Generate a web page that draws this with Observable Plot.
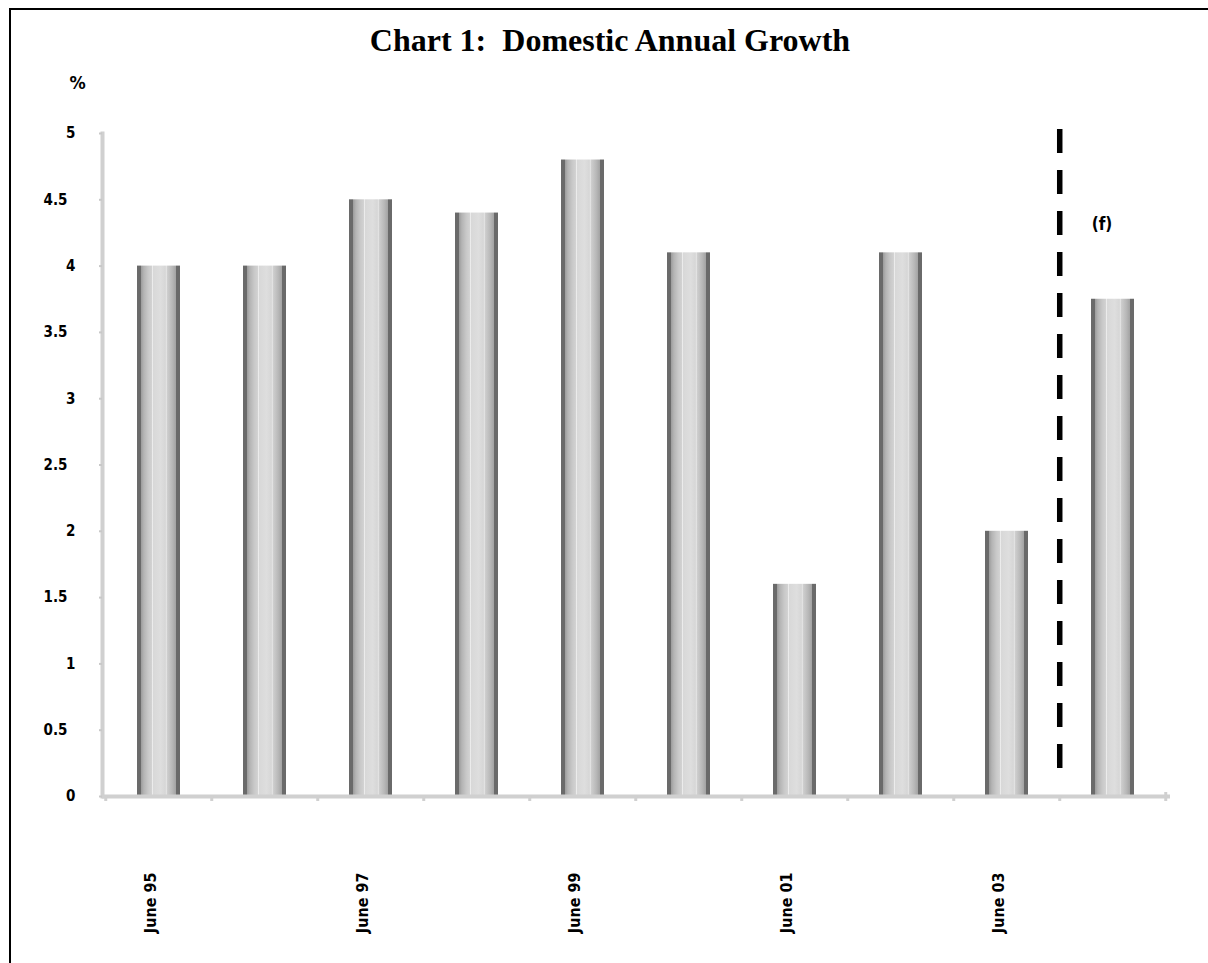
<!DOCTYPE html>
<html>
<head>
<meta charset="utf-8">
<script src="https://cdn.jsdelivr.net/npm/d3@7"></script>
<script src="https://cdn.jsdelivr.net/npm/@observablehq/plot@0.6"></script>
<style>
  html, body { margin: 0; padding: 0; background: #fff; overflow: hidden; }
  #border { position: absolute; left: 9px; top: 8px; width: 1400px; height: 1200px;
            border: 2.5px solid #000; box-sizing: border-box; pointer-events: none; }
  #wrap { position: absolute; left: 0; top: 0; width: 1208px; }
  #title { height: 62px; position: relative; }
  #title span { position: absolute; left: 0; width: 1220px; top: 22px; text-align: center;
                font: bold 32px "Liberation Serif", "Times New Roman", serif; white-space: pre;
                line-height: 36px; color: #000; }
  svg text { font-family: "Liberation Sans Narrow", "Arial Narrow", "DejaVu Sans Condensed", sans-serif; font-weight: bold; }
</style>
</head>
<body>
<div id="wrap">
  <div id="title"><span>Chart 1:  Domestic Annual Growth</span></div>
  <div id="chart"></div>
</div>
<div id="border"></div>
<script>
// ---- data ----
const periods = ["June 95", "June 96", "June 97", "June 98", "June 99", "June 00", "June 01", "June 02", "June 03", "June 04"];
const growth = [4.0, 4.0, 4.5, 4.4, 4.8, 4.1, 1.6, 4.1, 2.0, 3.75];
const shownLabels = ["June 95", "June 97", "June 99", "June 01", "June 03"];
const yTicksWhole = [0, 1, 2, 3, 4, 5];
const yTicksHalf = [0.5, 1.5, 2.5, 3.5, 4.5];
const forecastStart = "June 04";
const forecastNote = "(f)";
const unitLabel = "%";

const rows = periods.map((p, i) => ({period: p, value: growth[i]}));

const PAD_INNER = 0.59;

// custom render: boundary ticks on the x axis and the dashed forecast divider
function boundaryMarks(index, scales, values, dimensions) {
  const x = scales.x, y = scales.y;
  const step = x(periods[1]) - x(periods[0]);
  const bw = step * (1 - PAD_INNER);
  const half = (step - bw) / 2;
  const g = d3.create("svg:g");
  const y0 = y(0);
  const bounds = periods.map(p => x(p) - half).concat([x(periods[periods.length - 1]) + bw + half]);
  g.selectAll("line.tk").data(bounds).join("line")
    .attr("x1", d => d).attr("x2", d => d)
    .attr("y1", y0).attr("y2", y0 + 5)
    .attr("stroke", "#d0d0d0").attr("stroke-width", 3);
  g.append("line")
    .attr("x1", bounds[bounds.length - 1]).attr("x2", bounds[bounds.length - 1])
    .attr("y1", y0 - 4).attr("y2", y0)
    .attr("stroke", "#d0d0d0").attr("stroke-width", 3);
  const xd = x(forecastStart) - half;
  g.append("line")
    .attr("x1", xd).attr("x2", xd)
    .attr("y1", y(5.03)).attr("y2", y(0.17))
    .attr("stroke", "#000").attr("stroke-width", 5.5)
    .attr("stroke-dasharray", "24 17");
  return g.node();
}

const svg = Plot.plot({
  width: 1208,
  height: 901,
  marginLeft: 102,
  marginRight: 38,
  marginTop: 71,
  marginBottom: 167,
  style: {background: "transparent", fontSize: "15px", color: "#000"},
  x: {domain: periods, paddingInner: PAD_INNER, paddingOuter: PAD_INNER / 2, label: null},
  y: {domain: [0, 5], label: null},
  marks: [
    Plot.frame({anchor: "left", stroke: "#d0d0d0", strokeWidth: 4}),
    Plot.axisY({ticks: yTicksWhole, tickSize: 3, tickPadding: 24, stroke: "#c8c8c8", strokeWidth: 2,
                fontSize: 15, tickFormat: d => String(d), label: null}),
    Plot.axisY({ticks: yTicksHalf, tickSize: 3, tickPadding: 32, stroke: "#c8c8c8", strokeWidth: 2,
                fontSize: 15, tickFormat: d => String(d), label: null}),
    Plot.axisX({ticks: shownLabels, tickSize: 0, tickPadding: 76, tickRotate: -90,
                fontSize: 16, dx: -8, label: null}),
    Plot.barY(rows, {x: "period", y: "value", fill: "url(#cyl)"}),
    Plot.ruleY([0], {stroke: "#d0d0d0", strokeWidth: 4}),
    boundaryMarks,
    Plot.text([forecastNote], {x: [forecastStart], y: [4.31], dx: -11, fontSize: 17, text: d => d}),
    Plot.text([unitLabel], {frameAnchor: "top-left", dx: -33, dy: -57, fontSize: 18, text: d => d})
  ]
});

// cylinder-like gradient for the bars
const defs = d3.select(svg).insert("defs", ":first-child");
const grad = defs.append("linearGradient").attr("id", "cyl")
  .attr("x1", "0").attr("x2", "1").attr("y1", "0").attr("y2", "0");
const stops = [
  [0, "#6a6a6a"], [0.09, "#6a6a6a"], [0.09, "#9a9a9a"], [0.16, "#b4b4b4"],
  [0.26, "#c8c8c8"], [0.34, "#d2d2d2"], [0.36, "#ececec"], [0.38, "#d8d8d8"],
  [0.55, "#dedede"], [0.66, "#d6d6d6"], [0.68, "#eaeaea"], [0.70, "#cfcfcf"],
  [0.82, "#b8b8b8"], [0.90, "#a4a4a4"], [0.90, "#6a6a6a"], [1, "#6a6a6a"]
];
stops.forEach(([o, c]) => grad.append("stop").attr("offset", o).attr("stop-color", c));

document.getElementById("chart").appendChild(svg);
</script>
</body>
</html>
